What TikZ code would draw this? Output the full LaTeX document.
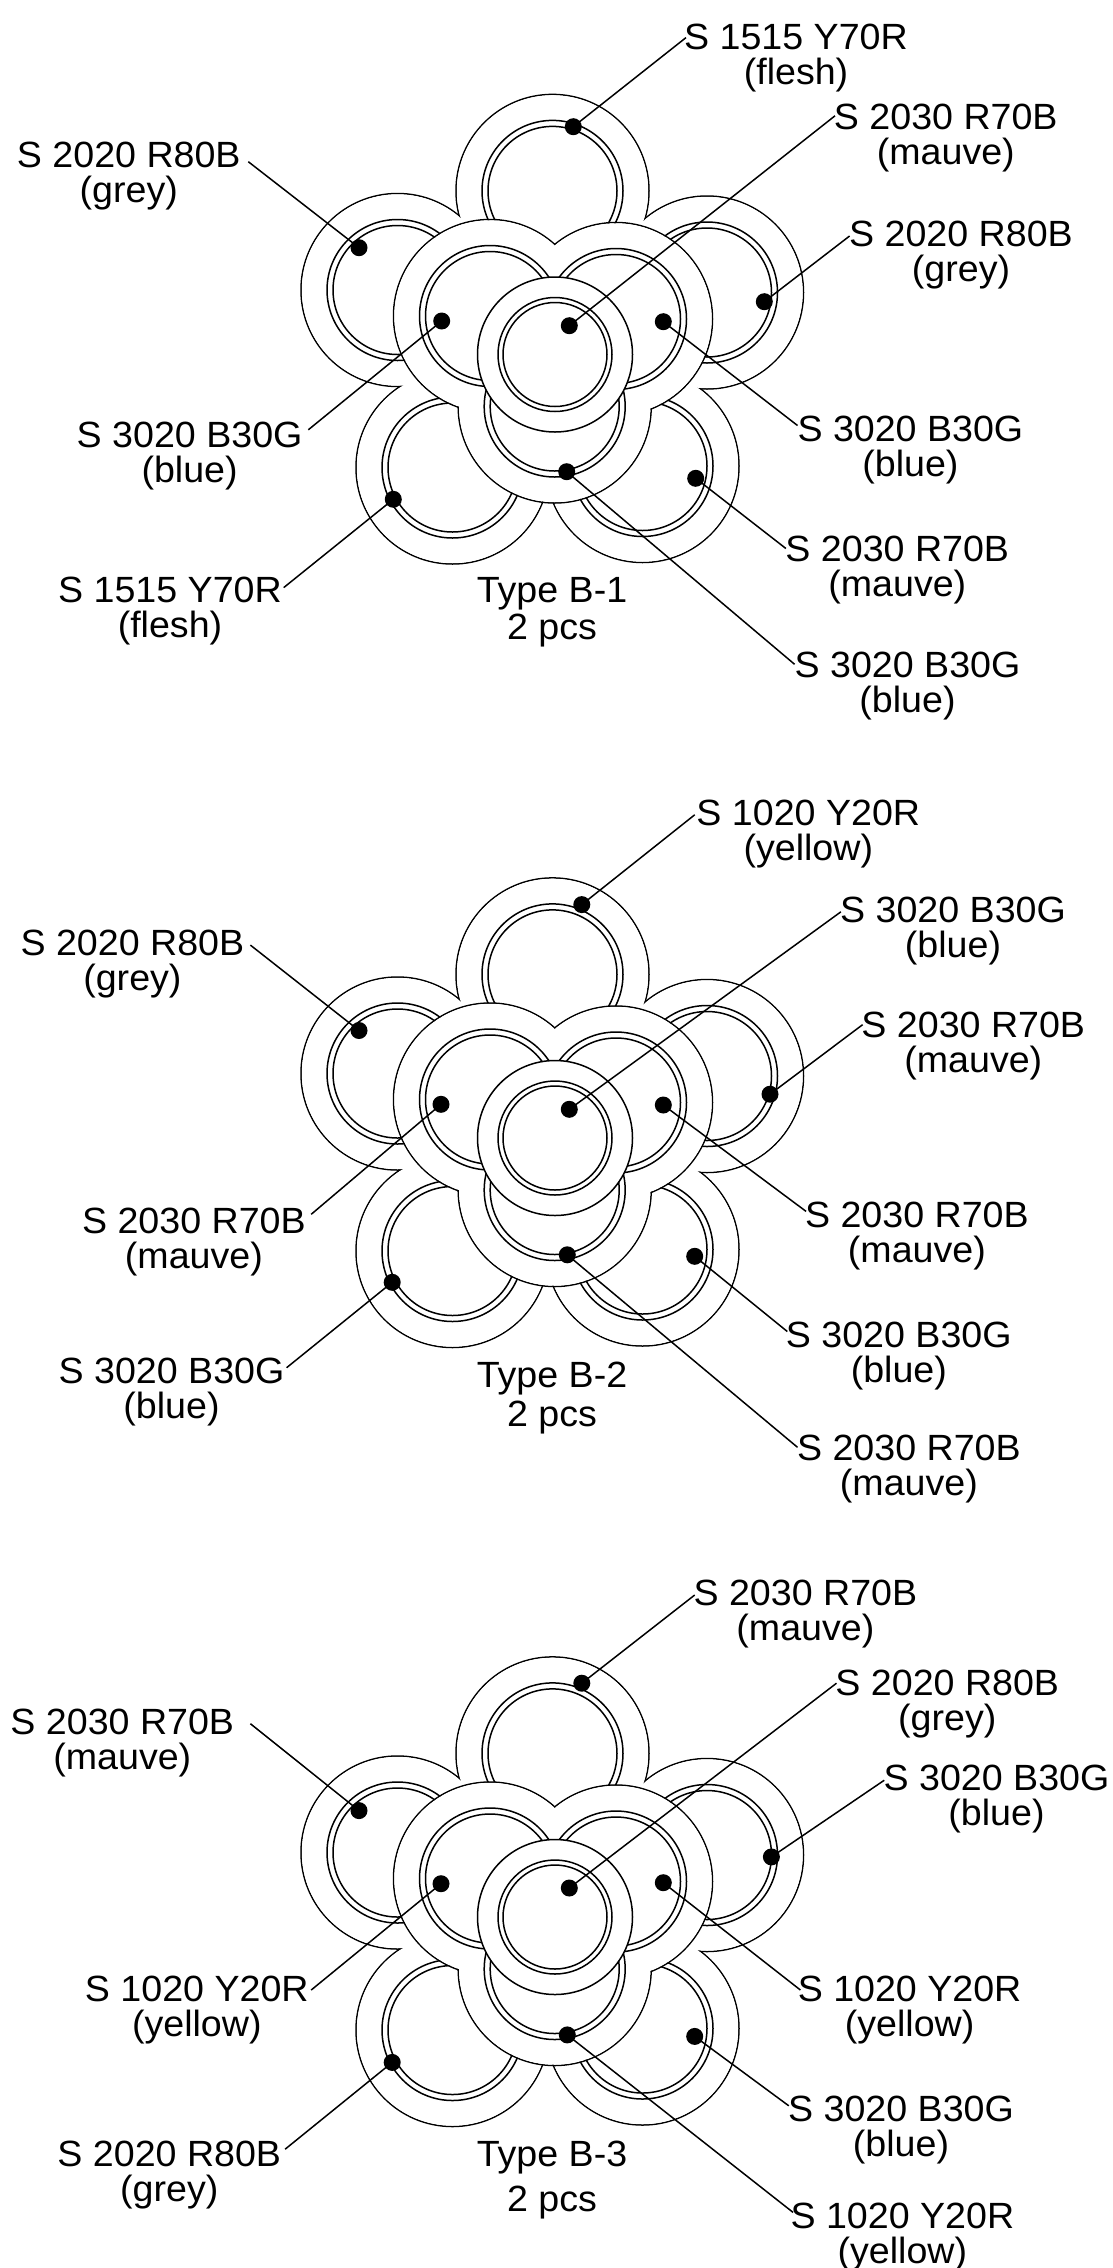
\documentclass[tikz,border=0pt]{standalone}
\usepackage{fontspec}
\setmainfont[FakeStretch=1.03]{Liberation Sans}
\begin{document}
\begin{tikzpicture}[x=1pt,y=-1pt,line width=1.5pt,
  lbl/.style={align=center,inner sep=0pt,anchor=north,font=\fontsize{36.5}{35}\selectfont},
  dot/.style={circle,fill=black,draw=none,inner sep=0pt,minimum size=17pt},
  leader/.style={line width=1.5pt}]
\useasboundingbox (0,0) rectangle (1113,2268);
\newcommand\cablebundle[1]{%
\begin{scope}[shift={(0,#1)}]
  \foreach \x/\y in {552.5/190.9,397.5/290,707/292.5,452.5/467.5,642.5/466}
    {\draw (\x,\y) circle (96.5pt);}
  \foreach \x/\y in {552.5/190.9,397.5/290,707/292.5,452.5/467.5,642.5/466}
    {\fill[white] (\x,\y) circle (95.7pt);}
  \foreach \x/\y in {552.5/190.9,397.5/290,707/292.5,452.5/467.5,642.5/466}
    {\draw (\x,\y) circle (70.5pt) (\x,\y) circle (64.5pt);}
  \foreach \x/\y in {490/316,616/319,554.7/406.5}
    {\draw (\x,\y) circle (96.5pt);}
  \foreach \x/\y in {490/316,616/319,554.7/406.5}
    {\fill[white] (\x,\y) circle (95.7pt);}
  \foreach \x/\y in {490/316,616/319,554.7/406.5}
    {\draw (\x,\y) circle (70.5pt) (\x,\y) circle (64.5pt);}
  \filldraw[fill=white] (555,354.5) circle (77.5pt);
  \draw (555,354.5) circle (57pt) (555,354.5) circle (52pt);
\end{scope}}
\cablebundle{0}
\cablebundle{783.5}
\cablebundle{1562.5}

% ---------- Type B-1 ----------
\node[dot] (a1) at (573.3,126.7) {};
\node[dot] (a2) at (569.3,325.7) {};
\node[dot] (a3) at (359,247.7) {};
\node[dot] (a4) at (764.3,301.7) {};
\node[dot] (a5) at (441.7,321) {};
\node[dot] (a6) at (663.3,321.7) {};
\node[dot] (a7) at (393.3,499.3) {};
\node[dot] (a8) at (695.7,478.3) {};
\node[dot] (a9) at (566.7,471.7) {};
\node[lbl] (la1) at (796,23.2) {S 1515 Y70R\\(flesh)};
\node[lbl] (la2) at (945.8,102.8) {S 2030 R70B\\(mauve)};
\node[lbl] (la3) at (128.8,141.7) {S 2020 R80B\\(grey)};
\node[lbl] (la4) at (961,220) {S 2020 R80B\\(grey)};
\node[lbl] (la5) at (189.6,421.2) {S 3020 B30G\\(blue)};
\node[lbl] (la6) at (910.4,415.4) {S 3020 B30G\\(blue)};
\node[lbl] (la7) at (170,576) {S 1515 Y70R\\(flesh)};
\node[lbl] (la8) at (897.3,535.5) {S 2030 R70B\\(mauve)};
\node[lbl,font=\fontsize{36.5}{37}\selectfont] (la9) at (552,576.7) {Type B-1\\2 pcs};
\node[lbl] (la10) at (907.5,651.3) {S 3020 B30G\\(blue)};
\coordinate (ea1) at (686,37.6);
\coordinate (ea2) at (835,115.8);
\coordinate (ea3) at (248.3,161.7);
\coordinate (ea4) at (849.6,236);
\coordinate (ea5) at (308.3,429.8);
\coordinate (ea6) at (797.5,425.5);
\coordinate (ea7) at (283.7,587.6);
\coordinate (ea8) at (785.9,548.5);
\coordinate (ea10) at (794.6,664.3);
\draw[leader] (a1.center) -- (ea1);
\draw[leader] (a2.center) -- (ea2);
\draw[leader] (a3.center) -- (ea3);
\draw[leader] (a4.center) -- (ea4);
\draw[leader] (a5.center) -- (ea5);
\draw[leader] (a6.center) -- (ea6);
\draw[leader] (a7.center) -- (ea7);
\draw[leader] (a8.center) -- (ea8);
\draw[leader] (a9.center) -- (ea10);

% ---------- Type B-2 ----------
\node[dot] (b1) at (581.8,904.6) {};
\node[dot] (b2) at (569.3,1109.3) {};
\node[dot] (b3) at (359,1030.5) {};
\node[dot] (b4) at (770,1094.2) {};
\node[dot] (b5) at (441,1104.3) {};
\node[dot] (b6) at (663.3,1105) {};
\node[dot] (b7) at (392.2,1282.3) {};
\node[dot] (b8) at (694.7,1256.3) {};
\node[dot] (b9) at (567.3,1254.8) {};
\node[lbl] (lb1) at (808.3,799) {S 1020 Y20R\\(yellow)};
\node[lbl] (lb2) at (953,895.9) {S 3020 B30G\\(blue)};
\node[lbl] (lb3) at (132.4,929.2) {S 2020 R80B\\(grey)};
\node[lbl] (lb4) at (973.3,1011.7) {S 2030 R70B\\(mauve)};
\node[lbl] (lb5) at (193.9,1207) {S 2030 R70B\\(mauve)};
\node[lbl] (lb6) at (916.9,1201.3) {S 2030 R70B\\(mauve)};
\node[lbl] (lb7) at (171.5,1357.6) {S 3020 B30G\\(blue)};
\node[lbl] (lb8) at (898.8,1321.4) {S 3020 B30G\\(blue)};
\node[lbl,font=\fontsize{36.5}{39}\selectfont] (lb9) at (552,1361) {Type B-2\\2 pcs};
\node[lbl] (lb10) at (908.9,1434.3) {S 2030 R70B\\(mauve)};
\coordinate (eb1) at (694.7,814.8);
\coordinate (eb2) at (840.9,911.8);
\coordinate (eb3) at (250.4,945.1);
\coordinate (eb4) at (862.6,1024.7);
\coordinate (eb5) at (311.2,1214.3);
\coordinate (eb6) at (806.1,1211.4);
\coordinate (eb7) at (286.6,1367.7);
\coordinate (eb8) at (787.3,1331.5);
\coordinate (eb10) at (797.5,1447.3);
\draw[leader] (b1.center) -- (eb1);
\draw[leader] (b2.center) -- (eb2);
\draw[leader] (b3.center) -- (eb3);
\draw[leader] (b4.center) -- (eb4);
\draw[leader] (b5.center) -- (eb5);
\draw[leader] (b6.center) -- (eb6);
\draw[leader] (b7.center) -- (eb7);
\draw[leader] (b8.center) -- (eb8);
\draw[leader] (b9.center) -- (eb10);

% ---------- Type B-3 ----------
\node[dot] (c1) at (581.8,1683.2) {};
\node[dot] (c2) at (569.3,1888) {};
\node[dot] (c3) at (359,1810.6) {};
\node[dot] (c4) at (771.4,1856.9) {};
\node[dot] (c5) at (441,1883.7) {};
\node[dot] (c6) at (663.3,1882.7) {};
\node[dot] (c7) at (392.2,2062.4) {};
\node[dot] (c8) at (694.7,2036.4) {};
\node[dot] (c9) at (567.3,2034.9) {};
\node[lbl] (lc1) at (805.4,1579) {S 2030 R70B\\(mauve)};
\node[lbl] (lc2) at (947.3,1668.8) {S 2020 R80B\\(grey)};
\node[lbl] (lc3) at (122.3,1707.8) {S 2030 R70B\\(mauve)};
\node[lbl] (lc4) at (996.5,1764.3) {S 3020 B30G\\(blue)};
\node[lbl] (lc5) at (196.8,1975.6) {S 1020 Y20R\\(yellow)};
\node[lbl] (lc6) at (909.6,1975.6) {S 1020 Y20R\\(yellow)};
\node[lbl] (lc7) at (169.3,2140.6) {S 2020 R80B\\(grey)};
\node[lbl] (lc8) at (901,2095.7) {S 3020 B30G\\(blue)};
\node[lbl,font=\fontsize{36.5}{45}\selectfont] (lc9) at (552,2140.6) {Type B-3\\2 pcs};
\node[lbl] (lc10) at (902.4,2202) {S 1020 Y20R\\(yellow)};
\coordinate (ec1) at (694.7,1595);
\coordinate (ec2) at (836.5,1683.2);
\coordinate (ec3) at (250.4,1723.7);
\coordinate (ec4) at (884.3,1780.2);
\coordinate (ec5) at (311.2,1990);
\coordinate (ec6) at (800.4,1990);
\coordinate (ec7) at (285.1,2149.2);
\coordinate (ec8) at (788.8,2105.8);
\coordinate (ec10) at (793.1,2212.4);
\draw[leader] (c1.center) -- (ec1);
\draw[leader] (c2.center) -- (ec2);
\draw[leader] (c3.center) -- (ec3);
\draw[leader] (c4.center) -- (ec4);
\draw[leader] (c5.center) -- (ec5);
\draw[leader] (c6.center) -- (ec6);
\draw[leader] (c7.center) -- (ec7);
\draw[leader] (c8.center) -- (ec8);
\draw[leader] (c9.center) -- (ec10);
\end{tikzpicture}
\end{document}
